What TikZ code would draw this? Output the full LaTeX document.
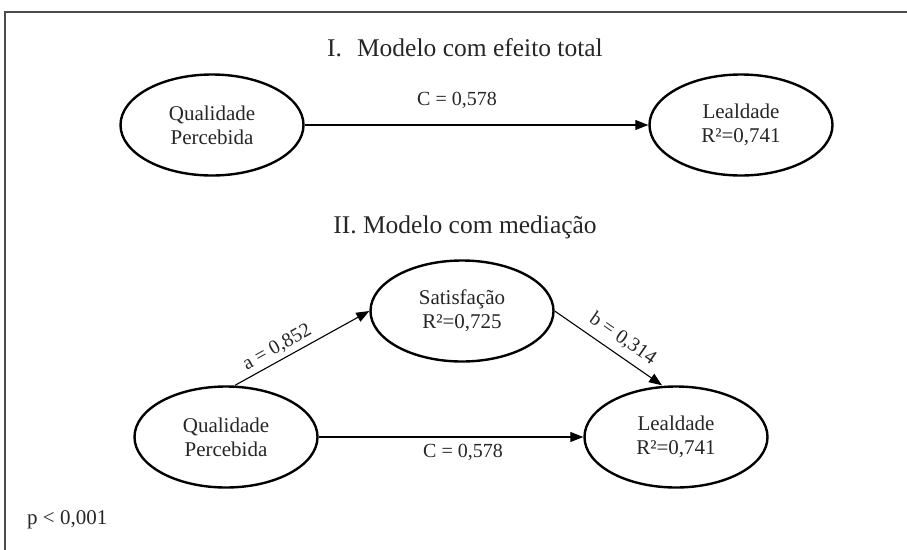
\documentclass[tikz,border=0pt]{standalone}
\usepackage{fontspec}
\setmainfont{Liberation Serif}
\usetikzlibrary{shapes.geometric,arrows.meta}
\begin{document}
\begin{tikzpicture}[x=1pt,y=-1pt,
  latent/.style={draw, ellipse, line width=2.4pt, minimum width=183pt, minimum height=101pt,
    inner sep=0pt, align=center, font=\fontsize{21}{24}\selectfont, text=black!85},
  pathedge/.style={-{Triangle[length=13pt,width=10pt]}, line width=1.1pt},
  coef/.style={font=\fontsize{20}{22}\selectfont, inner sep=2pt, text=black!85},
  heading/.style={font=\fontsize{25.5}{28}\selectfont, text=black!85}]
\useasboundingbox (0,0) rectangle (907,549);
\clip (0,0) rectangle (907,549);
\draw[line width=1.5pt, black!70] (5,12) rectangle (960,620);

\node[heading] (t1) at (465,48) {I.\hskip 15pt Modelo com efeito total};
\node[heading] (t2) at (465,227) {II. Modelo com mediação};

\node[latent] (q1) at (212,125) {Qualidade\\Percebida};
\node[latent] (l1) at (741,125) {Lealdade\\R²=0,741};
\node[latent] (s)  at (462,311) {Satisfação\\R²=0,725};
\node[latent] (q2) at (226,437) {Qualidade\\Percebida};
\node[latent] (l2) at (676,437) {Lealdade\\R²=0,741};

\draw[pathedge] (q1) -- (l1);
\node[coef] (c1) at (457,100) {C = 0,578};

\draw[pathedge] ([xshift=9pt]q2.north) -- (s.west)
  node[coef, sloped, above=2pt, pos=0.36] (ca) {a = 0,852};
\draw[pathedge] (s.east) -- ([xshift=-14pt]l2.north)
  node[coef, sloped, above=5pt, pos=0.55] (cb) {b = 0,314};
\draw[pathedge] (q2) -- (l2);
\node[coef] (c2) at (463,452) {C = 0,578};

\node[coef, anchor=west, font=\fontsize{21}{24}\selectfont] (p) at (25,520) {p < 0,001};
\end{tikzpicture}
\end{document}
